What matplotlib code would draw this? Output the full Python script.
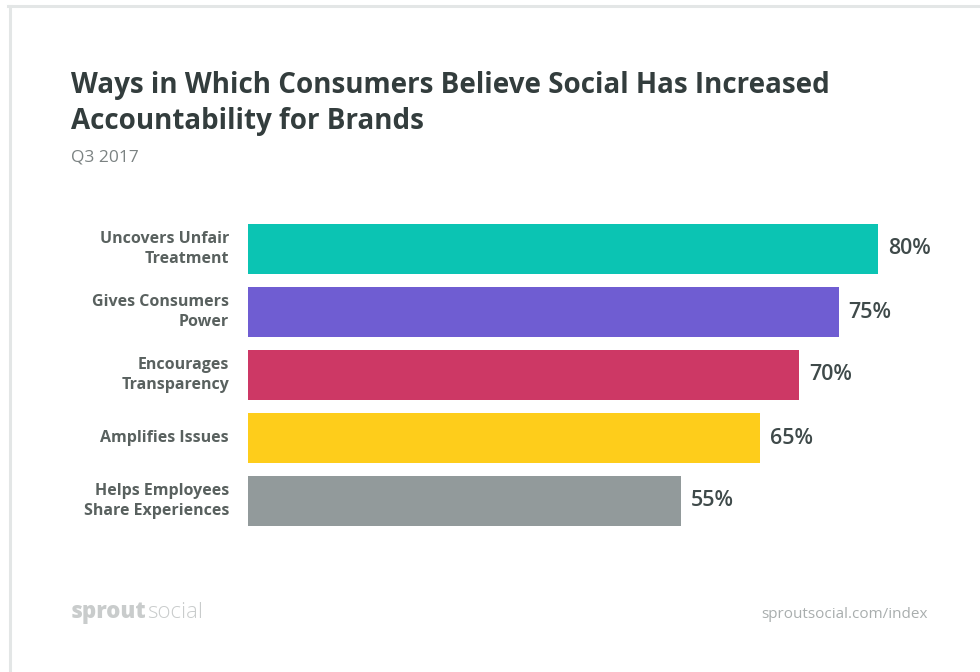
import matplotlib.pyplot as plt
from matplotlib.lines import Line2D

plt.rcParams['font.family'] = ['Open Sans', 'DejaVu Sans']

categories = ['Uncovers Unfair\nTreatment', 'Gives Consumers\nPower', 'Encourages\nTransparency',
              'Amplifies Issues', 'Helps Employees\nShare Experiences']
values = [80, 75, 70, 65, 55]
colors = ['#0bc4b3', '#6f5dd2', '#cd3865', '#fecd1b', '#929a9b']

W, H = 980, 672
fig = plt.figure(figsize=(W / 100, H / 100), dpi=100)

# card border (top and left edges)
fig.add_artist(Line2D([8 / W, 1], [1 - 5.5 / H, 1 - 5.5 / H], color='#e3e6e6', lw=2.2))
fig.add_artist(Line2D([9.5 / W, 9.5 / W], [0, 1 - 5.5 / H], color='#e3e6e6', lw=2.2))

# bars: 0% at x=248px, 7.875 px per percent, rows 63px apart
x0, px_per = 248, 7.875
xmax = 90
top, bottom = 217.5, 532.5
ax = fig.add_axes([x0 / W, 1 - bottom / H, xmax * px_per / W, (bottom - top) / H])
ypos = range(len(values))
ax.barh(ypos, values, height=50 / 63, color=colors)
ax.set_xlim(0, xmax)
ax.set_ylim(len(values) - 0.5, -0.5)
ax.axis('off')

for y, v, lab in zip(ypos, values, categories):
    ax.text(v + 10 / px_per, y, f'{v}%', va='center', ha='left', fontsize=15.5,
            fontweight='semibold', color='#3f4a4a')
    ax.text(-19 / px_per, y, lab, va='center', ha='right', fontsize=11.5,
            fontweight='bold', color='#59615f', linespacing=1.4)

fig.text(71 / W, 1 - 86 / H, 'Ways in Which Consumers Believe Social Has Increased',
         fontsize=20, fontweight='bold', color='#333d3d', va='center', ha='left')
fig.text(71 / W, 1 - 122 / H, 'Accountability for Brands',
         fontsize=20, fontweight='bold', color='#333d3d', va='center', ha='left')
fig.text(71 / W, 1 - 157 / H, 'Q3 2017', fontsize=12.5, color='#7b8282', va='center', ha='left')

# footer
t = fig.text(71 / W, 1 - 612 / H, 'sprout', fontsize=16, fontweight='heavy', color='#c9cccc',
             va='center', ha='left')
fig.canvas.draw()
bb = t.get_window_extent()
fig.text(bb.x1 / W, 1 - 612 / H, 'social', fontsize=16, fontweight='light', color='#c9cccc',
         va='center', ha='left')
fig.text(928 / W, 1 - 614 / H, 'sproutsocial.com/index', fontsize=11, color='#a9aeae',
         va='center', ha='right')

fig.savefig('out.png', dpi=100, facecolor='white')
